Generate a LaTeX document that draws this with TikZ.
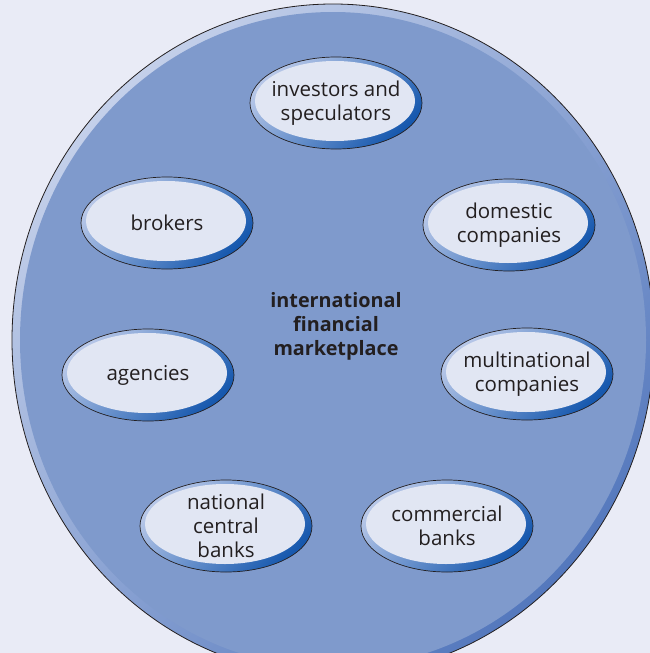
\documentclass[tikz,border=0pt]{standalone}
\usepackage{fontspec}
\setmainfont{Open Sans}
\usepackage{tikz}
\usetikzlibrary{positioning,shapes.geometric}
\definecolor{cPage}{HTML}{E9EBF6}
\definecolor{cMarket}{HTML}{7F9ACC}
\definecolor{cRimLight}{HTML}{C4D0EA}
\definecolor{cRimDark}{HTML}{5478BD}
\definecolor{cBubble}{HTML}{E1E6F3}
\definecolor{cBubLight}{HTML}{B7C7E8}
\definecolor{cBubDark}{HTML}{1658AE}
\definecolor{cInk}{HTML}{231F20}
\tikzset{
  bubble/.style={ellipse, draw=cInk, line width=0.7pt,
                 minimum width=172pt, minimum height=92pt,
                 inner xsep=-30pt, inner ysep=-12pt,
                 top color=cBubLight, bottom color=cBubDark, shading angle=45,
                 align=center, text=cInk,
                 font=\fontsize{20.5}{24}\selectfont,
                 path picture={\fill[cBubble] ([xshift=-1pt,yshift=2pt]path picture bounding box.center)
                     ellipse [x radius=80pt, y radius=40pt];}},
  hub/.style={align=center, text=cInk, font=\bfseries\fontsize{19.8}{24}\selectfont}
}
\begin{document}
\begin{tikzpicture}[x=1pt, y=-1pt]
\useasboundingbox (0,0) rectangle (650,653);
\fill[cPage] (0,0) rectangle (650,653);
% marketplace
\shade[top color=cRimLight, bottom color=cRimDark, shading angle=45]
  (333,340) ellipse [x radius=321pt, y radius=336pt];
\fill[cMarket] (333,340) ellipse [x radius=313pt, y radius=328pt];
\draw[cInk, line width=0.8pt] (333,340) ellipse [x radius=321pt, y radius=336pt];
\node[hub] (market) at (336,326) {international\\financial\\marketplace};
% participants
\node[bubble] (inv) at (336,103) {investors and\\speculators};
\node[bubble] (brk) at (167,223) {brokers};
\node[bubble] (dom) at (509,225) {domestic\\companies};
\node[bubble] (agc) at (148,375) {agencies};
\node[bubble] (mnc) at (527,374) {multinational\\companies};
\node[bubble] (ncb) at (226,526) {national\\central\\banks};
\node[bubble] (cmb) at (447,526) {commercial\\banks};
\end{tikzpicture}
\end{document}
